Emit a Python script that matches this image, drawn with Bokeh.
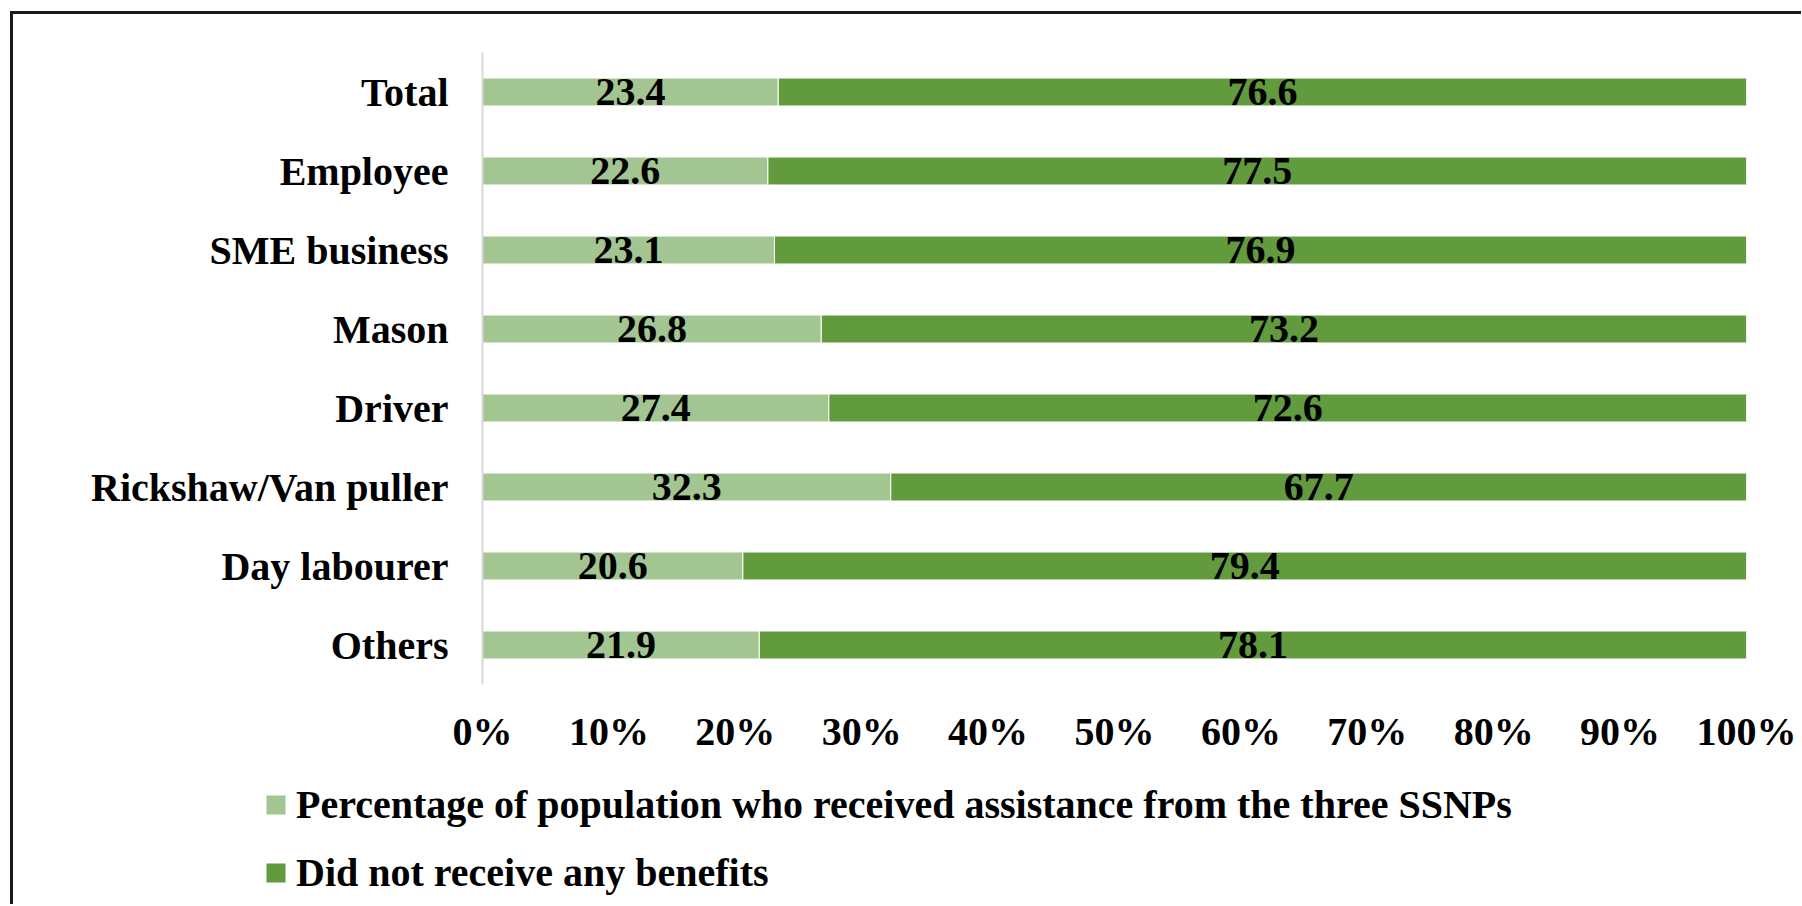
from bokeh.plotting import figure
from bokeh.layouts import column
from bokeh.models import (ColumnDataSource, FactorRange, Range1d, FixedTicker,
                          PrintfTickFormatter, Legend, LegendItem)
from bokeh.embed import file_html
from bokeh.resources import INLINE
from bokeh.core.properties import value

categories = ["Total", "Employee", "SME business", "Mason", "Driver",
              "Rickshaw/Van puller", "Day labourer", "Others"]
received = [23.4, 22.6, 23.1, 26.8, 27.4, 32.3, 20.6, 21.9]
not_received = [76.6, 77.5, 76.9, 73.2, 72.6, 67.7, 79.4, 78.1]
series_names = ["Percentage of population who received assistance from the three SSNPs",
                "Did not receive any benefits"]
x_ticks = [0, 10, 20, 30, 40, 50, 60, 70, 80, 90, 100]
colors = ["#A3C592", "#629A3E"]

FONT = "Liberation Serif"
FS = "40px"

# 100% stacked, like the original
totals = [a + b for a, b in zip(received, not_received)]
r_share = [a / t * 100 for a, t in zip(received, totals)]
n_share = [b / t * 100 for b, t in zip(not_received, totals)]

source = ColumnDataSource(dict(
    cat=categories,
    r=r_share,
    n=n_share,
    r_lab=[f"{v:.1f}" for v in received],
    n_lab=[f"{v:.1f}" for v in not_received],
    r_mid=[s / 2 for s in r_share],
    n_mid=[a + b / 2 for a, b in zip(r_share, n_share)],
))

# ---------------- main chart ----------------
p = figure(width=1788, height=746,
           y_range=FactorRange(*reversed(categories), range_padding=0),
           x_range=Range1d(0, 100),
           output_backend="svg", toolbar_location=None,
           min_border_left=469, min_border_right=55,
           min_border_top=38, min_border_bottom=76)
p.background_fill_color = "white"
p.border_fill_color = "white"
p.outline_line_color = None
p.xgrid.visible = False
p.ygrid.visible = False

rs = p.hbar_stack(["r", "n"], y="cat", height=0.354, source=source,
                  fill_color=colors, line_color="white", line_width=1)

for xcol, tcol in (("r_mid", "r_lab"), ("n_mid", "n_lab")):
    p.text(x=xcol, y="cat", text=tcol, source=source,
           text_align="center", text_baseline="middle",
           text_font=value(FONT), text_font_style="bold",
           text_font_size=FS, text_color="black")

xa = p.xaxis[0]
xa.ticker = FixedTicker(ticks=x_ticks)
xa.formatter = PrintfTickFormatter(format="%d%%")
xa.axis_line_color = None
xa.major_tick_line_color = None
xa.minor_tick_line_color = None
xa.major_tick_out = 0
xa.major_label_standoff = 24
xa.major_label_text_font = FONT
xa.major_label_text_font_style = "bold"
xa.major_label_text_font_size = FS
xa.major_label_text_color = "black"

ya = p.yaxis[0]
ya.axis_line_color = "#D9D9D9"
ya.axis_line_width = 2
ya.major_tick_line_color = None
ya.minor_tick_line_color = None
ya.major_tick_out = 0
ya.major_label_standoff = 34
ya.major_label_text_font = FONT
ya.major_label_text_font_style = "bold"
ya.major_label_text_font_size = FS
ya.major_label_text_color = "black"
ya.major_label_overrides = {"Others": "Others\u00a0"}

top = column(p, spacing=0)
top.styles = {"margin-left": "10px", "margin-top": "11px",
              "border-left": "3px solid #1a1a1a", "border-top": "3px solid #1a1a1a"}

# ---------------- legend strip (separate root, no frame alignment) ----------------
pl = figure(width=1788, height=144,
            y_range=FactorRange(*reversed(categories), range_padding=0),
            x_range=Range1d(1000, 1100),
            output_backend="svg", toolbar_location=None,
            x_axis_location=None, y_axis_location=None,
            min_border_left=0, min_border_right=0,
            min_border_top=0, min_border_bottom=0)
pl.background_fill_color = "white"
pl.border_fill_color = "white"
pl.outline_line_color = None
pl.xgrid.visible = False
pl.ygrid.visible = False
pl.styles = {"display": "block", "margin-left": "10px",
             "border-left": "3px solid #1a1a1a"}
# same series, drawn out of view: they only supply the legend swatches
rl = pl.hbar_stack(["r", "n"], y="cat", height=0.354, source=source,
                   fill_color=colors, line_color="white", line_width=1)

legend = Legend(items=[LegendItem(label=series_names[0], renderers=[rl[0]]),
                       LegendItem(label=series_names[1], renderers=[rl[1]])],
                location=(250, 8), orientation="vertical",
                glyph_width=25, glyph_height=25, label_standoff=8,
                label_height=48, spacing=20, padding=0, margin=0,
                border_line_alpha=0, background_fill_alpha=0,
                label_text_font=FONT, label_text_font_style="bold",
                label_text_font_size=FS, label_text_color="black")
pl.add_layout(legend)

open("out.html", "w").write(file_html([top, pl], INLINE))
